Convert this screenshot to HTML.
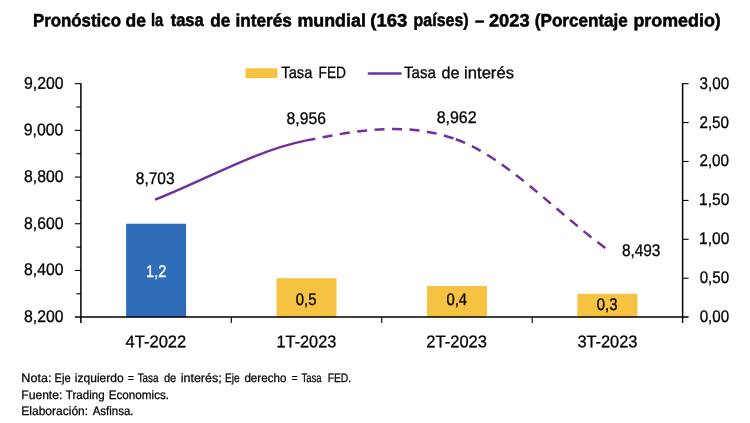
<!DOCTYPE html>
<html><head><meta charset="utf-8"><title>Chart</title>
<style>html,body{margin:0;padding:0;background:#fff;overflow:hidden}svg{display:block}text{font-family:"Liberation Sans",sans-serif}</style></head><body><div style="will-change:transform;width:750px;height:423px">
<svg width="750" height="423" viewBox="0 0 750 423">
<rect width="750" height="423" fill="#fff"/>
<rect x="245.5" y="68.3" width="32" height="9.8" fill="#F5C242"/>
<line x1="368.85" x2="400.55" y1="73.45" y2="73.45" stroke="#7030A0" stroke-width="2.5" stroke-linecap="round"/>
<rect x="126.11" y="223.75" width="60" height="93.40" fill="#2F6DB9"/>
<rect x="276.54" y="278.23" width="60" height="38.92" fill="#F5C242"/>
<rect x="426.96" y="286.02" width="60" height="31.13" fill="#F5C242"/>
<rect x="577.39" y="293.80" width="60" height="23.35" fill="#F5C242"/>
<g stroke="#000" fill="none">
<g stroke-width="1.5">
<path d="M80.9 83.2V322.9"/>
<path d="M682.6 83.2V322.9"/>
<path d="M74.9 317.1H688.6"/>
</g><g stroke-width="1.1">
<path d="M74.9 83.65H80.9"/>
<path d="M76.3 107.00H80.9"/>
<path d="M74.9 130.35H80.9"/>
<path d="M76.3 153.70H80.9"/>
<path d="M74.9 177.05H80.9"/>
<path d="M76.3 200.40H80.9"/>
<path d="M74.9 223.75H80.9"/>
<path d="M76.3 247.10H80.9"/>
<path d="M74.9 270.45H80.9"/>
<path d="M76.3 293.80H80.9"/>
<path d="M682.6 83.65H688.6"/>
<path d="M682.6 122.57H688.6"/>
<path d="M682.6 161.48H688.6"/>
<path d="M682.6 200.40H688.6"/>
<path d="M682.6 239.32H688.6"/>
<path d="M682.6 278.23H688.6"/>
<path d="M231.33 317.1V322.9"/>
<path d="M381.75 317.1V322.9"/>
<path d="M532.18 317.1V322.9"/>
</g></g>
<path d="M155.01 199.70 C205.15 180.01 255.30 150.70 305.44 140.62" fill="none" stroke="#7030A0" stroke-width="2.5"/>
<path d="M305.44 140.62 C355.58 130.54 405.72 121.20 455.86 139.22" fill="none" stroke="#7030A0" stroke-width="2.5" stroke-dasharray="10 7.5"/>
<path d="M455.86 139.22 C506.00 157.24 556.15 212.23 606.29 248.73" fill="none" stroke="#7030A0" stroke-width="2.5" stroke-dasharray="10 7.56"/>
<text transform="rotate(0.03 32.95 26.45)" x="32.95" y="26.45" font-size="18.00" font-weight="bold" textLength="88.03" lengthAdjust="spacingAndGlyphs" fill="#000" stroke="#000" stroke-width="0.5">Pronóstico</text>
<text transform="rotate(0.03 125.46 26.45)" x="125.46" y="26.45" font-size="18.00" font-weight="bold" textLength="20.42" lengthAdjust="spacingAndGlyphs" fill="#000" stroke="#000" stroke-width="0.5">de</text>
<text transform="rotate(0.03 150.97 26.45)" x="150.97" y="26.45" font-size="18.00" font-weight="bold" textLength="12.25" lengthAdjust="spacingAndGlyphs" fill="#000" stroke="#000" stroke-width="0.5">la</text>
<text transform="rotate(0.03 170.65 26.45)" x="170.65" y="26.45" font-size="18.00" font-weight="bold" textLength="33.00" lengthAdjust="spacingAndGlyphs" fill="#000" stroke="#000" stroke-width="0.5">tasa</text>
<text transform="rotate(0.03 210.27 26.45)" x="210.27" y="26.45" font-size="18.00" font-weight="bold" textLength="20.04" lengthAdjust="spacingAndGlyphs" fill="#000" stroke="#000" stroke-width="0.5">de</text>
<text transform="rotate(0.03 235.49 26.45)" x="235.49" y="26.45" font-size="18.00" font-weight="bold" textLength="56.44" lengthAdjust="spacingAndGlyphs" fill="#000" stroke="#000" stroke-width="0.5">interés</text>
<text transform="rotate(0.03 297.40 26.45)" x="297.40" y="26.45" font-size="18.00" font-weight="bold" textLength="68.47" lengthAdjust="spacingAndGlyphs" fill="#000" stroke="#000" stroke-width="0.5">mundial</text>
<text transform="rotate(0.03 370.27 26.45)" x="370.27" y="26.45" font-size="18.00" font-weight="bold" textLength="36.87" lengthAdjust="spacingAndGlyphs" fill="#000" stroke="#000" stroke-width="0.5">(163</text>
<text transform="rotate(0.03 413.60 26.45)" x="413.60" y="26.45" font-size="18.00" font-weight="bold" textLength="55.00" lengthAdjust="spacingAndGlyphs" fill="#000" stroke="#000" stroke-width="0.5">países)</text>
<text transform="rotate(0.03 474.91 26.45)" x="474.91" y="26.45" font-size="18.00" font-weight="bold" textLength="9.37" lengthAdjust="spacingAndGlyphs" fill="#000" stroke="#000" stroke-width="0.5">–</text>
<text transform="rotate(0.03 488.97 26.45)" x="488.97" y="26.45" font-size="18.00" font-weight="bold" textLength="40.62" lengthAdjust="spacingAndGlyphs" fill="#000" stroke="#000" stroke-width="0.5">2023</text>
<text transform="rotate(0.03 534.80 26.45)" x="534.80" y="26.45" font-size="18.00" font-weight="bold" textLength="93.04" lengthAdjust="spacingAndGlyphs" fill="#000" stroke="#000" stroke-width="0.5">(Porcentaje</text>
<text transform="rotate(0.03 633.41 26.45)" x="633.41" y="26.45" font-size="18.00" font-weight="bold" textLength="87.35" lengthAdjust="spacingAndGlyphs" fill="#000" stroke="#000" stroke-width="0.5">promedio)</text>
<text transform="rotate(0.03 281.34 78.25)" x="281.34" y="78.25" font-size="16.40" textLength="30.95" lengthAdjust="spacingAndGlyphs" fill="#000" stroke="#000" stroke-width="0.3">Tasa</text>
<text transform="rotate(0.03 318.53 78.25)" x="318.53" y="78.25" font-size="16.40" textLength="27.45" lengthAdjust="spacingAndGlyphs" fill="#000" stroke="#000" stroke-width="0.3">FED</text>
<text transform="rotate(0.03 404.04 78.25)" x="404.04" y="78.25" font-size="16.40" textLength="31.77" lengthAdjust="spacingAndGlyphs" fill="#000" stroke="#000" stroke-width="0.3">Tasa</text>
<text transform="rotate(0.03 441.56 78.25)" x="441.56" y="78.25" font-size="16.40" textLength="17.96" lengthAdjust="spacingAndGlyphs" fill="#000" stroke="#000" stroke-width="0.3">de</text>
<text transform="rotate(0.03 464.08 78.25)" x="464.08" y="78.25" font-size="16.40" textLength="49.89" lengthAdjust="spacingAndGlyphs" fill="#000" stroke="#000" stroke-width="0.3">interés</text>
<text transform="rotate(0.03 24.02 88.65)" x="24.02" y="88.65" font-size="16.90" textLength="39.43" lengthAdjust="spacingAndGlyphs" fill="#000" stroke="#000" stroke-width="0.3">9,200</text>
<text transform="rotate(0.03 23.76 135.35)" x="23.76" y="135.35" font-size="16.90" textLength="39.64" lengthAdjust="spacingAndGlyphs" fill="#000" stroke="#000" stroke-width="0.3">9,000</text>
<text transform="rotate(0.03 24.03 182.05)" x="24.03" y="182.05" font-size="16.90" textLength="39.41" lengthAdjust="spacingAndGlyphs" fill="#000" stroke="#000" stroke-width="0.3">8,800</text>
<text transform="rotate(0.03 24.05 228.75)" x="24.05" y="228.75" font-size="16.90" textLength="39.42" lengthAdjust="spacingAndGlyphs" fill="#000" stroke="#000" stroke-width="0.3">8,600</text>
<text transform="rotate(0.03 24.02 275.45)" x="24.02" y="275.45" font-size="16.90" textLength="39.41" lengthAdjust="spacingAndGlyphs" fill="#000" stroke="#000" stroke-width="0.3">8,400</text>
<text transform="rotate(0.03 24.00 322.15)" x="24.00" y="322.15" font-size="16.90" textLength="39.42" lengthAdjust="spacingAndGlyphs" fill="#000" stroke="#000" stroke-width="0.3">8,200</text>
<text transform="rotate(0.03 699.54 88.60)" x="699.54" y="88.60" font-size="16.90" textLength="29.56" lengthAdjust="spacingAndGlyphs" fill="#000" stroke="#000" stroke-width="0.3">3,00</text>
<text transform="rotate(0.03 699.43 127.52)" x="699.43" y="127.52" font-size="16.90" textLength="29.63" lengthAdjust="spacingAndGlyphs" fill="#000" stroke="#000" stroke-width="0.3">2,50</text>
<text transform="rotate(0.03 699.43 166.43)" x="699.43" y="166.43" font-size="16.90" textLength="29.63" lengthAdjust="spacingAndGlyphs" fill="#000" stroke="#000" stroke-width="0.3">2,00</text>
<text transform="rotate(0.03 699.07 205.35)" x="699.07" y="205.35" font-size="16.90" textLength="30.19" lengthAdjust="spacingAndGlyphs" fill="#000" stroke="#000" stroke-width="0.3">1,50</text>
<text transform="rotate(0.03 699.07 244.27)" x="699.07" y="244.27" font-size="16.90" textLength="30.19" lengthAdjust="spacingAndGlyphs" fill="#000" stroke="#000" stroke-width="0.3">1,00</text>
<text transform="rotate(0.03 699.71 283.18)" x="699.71" y="283.18" font-size="16.90" textLength="29.45" lengthAdjust="spacingAndGlyphs" fill="#000" stroke="#000" stroke-width="0.3">0,50</text>
<text transform="rotate(0.03 699.71 322.10)" x="699.71" y="322.10" font-size="16.90" textLength="29.45" lengthAdjust="spacingAndGlyphs" fill="#000" stroke="#000" stroke-width="0.3">0,00</text>
<text transform="rotate(0.03 125.54 347.20)" x="125.54" y="347.20" font-size="16.90" textLength="60.74" lengthAdjust="spacingAndGlyphs" fill="#000" stroke="#000" stroke-width="0.3">4T-2022</text>
<text transform="rotate(0.03 276.56 347.20)" x="276.56" y="347.20" font-size="16.90" textLength="59.73" lengthAdjust="spacingAndGlyphs" fill="#000" stroke="#000" stroke-width="0.3">1T-2023</text>
<text transform="rotate(0.03 426.36 347.20)" x="426.36" y="347.20" font-size="16.90" textLength="60.60" lengthAdjust="spacingAndGlyphs" fill="#000" stroke="#000" stroke-width="0.3">2T-2023</text>
<text transform="rotate(0.03 577.38 347.20)" x="577.38" y="347.20" font-size="16.90" textLength="60.05" lengthAdjust="spacingAndGlyphs" fill="#000" stroke="#000" stroke-width="0.3">3T-2023</text>
<text transform="rotate(0.03 135.87 183.95)" x="135.87" y="183.95" font-size="16.90" textLength="38.71" lengthAdjust="spacingAndGlyphs" fill="#000" stroke="#000" stroke-width="0.3">8,703</text>
<text transform="rotate(0.03 286.53 124.10)" x="286.53" y="124.10" font-size="16.90" textLength="39.37" lengthAdjust="spacingAndGlyphs" fill="#000" stroke="#000" stroke-width="0.3">8,956</text>
<text transform="rotate(0.03 436.77 123.00)" x="436.77" y="123.00" font-size="16.90" textLength="39.79" lengthAdjust="spacingAndGlyphs" fill="#000" stroke="#000" stroke-width="0.3">8,962</text>
<text transform="rotate(0.03 621.88 255.90)" x="621.88" y="255.90" font-size="16.90" textLength="38.52" lengthAdjust="spacingAndGlyphs" fill="#000" stroke="#000" stroke-width="0.3">8,493</text>
<text transform="rotate(0.03 146.09 277.30)" x="146.09" y="277.30" font-size="16.90" textLength="20.21" lengthAdjust="spacingAndGlyphs" fill="#fff" stroke="#fff" stroke-width="0.3">1,2</text>
<text transform="rotate(0.03 295.77 304.80)" x="295.77" y="304.80" font-size="16.90" textLength="20.67" lengthAdjust="spacingAndGlyphs" fill="#000" stroke="#000" stroke-width="0.3">0,5</text>
<text transform="rotate(0.03 446.49 305.00)" x="446.49" y="305.00" font-size="16.90" textLength="20.57" lengthAdjust="spacingAndGlyphs" fill="#000" stroke="#000" stroke-width="0.3">0,4</text>
<text transform="rotate(0.03 596.75 310.00)" x="596.75" y="310.00" font-size="16.90" textLength="20.64" lengthAdjust="spacingAndGlyphs" fill="#000" stroke="#000" stroke-width="0.3">0,3</text>
<text transform="rotate(0.03 21.36 382.00)" x="21.36" y="382.00" font-size="12.20" textLength="30.12" lengthAdjust="spacingAndGlyphs" fill="#000" stroke="#000" stroke-width="0.25">Nota:</text>
<text transform="rotate(0.03 54.55 382.00)" x="54.55" y="382.00" font-size="12.20" textLength="16.06" lengthAdjust="spacingAndGlyphs" fill="#000" stroke="#000" stroke-width="0.25">Eje</text>
<text transform="rotate(0.03 74.83 382.00)" x="74.83" y="382.00" font-size="12.20" textLength="48.79" lengthAdjust="spacingAndGlyphs" fill="#000" stroke="#000" stroke-width="0.25">izquierdo</text>
<text transform="rotate(0.03 128.00 382.00)" x="128.00" y="382.00" font-size="12.20" textLength="5.80" lengthAdjust="spacingAndGlyphs" fill="#000" stroke="#000" stroke-width="0.25">=</text>
<text transform="rotate(0.03 137.63 382.00)" x="137.63" y="382.00" font-size="12.20" textLength="20.91" lengthAdjust="spacingAndGlyphs" fill="#000" stroke="#000" stroke-width="0.25">Tasa</text>
<text transform="rotate(0.03 163.92 382.00)" x="163.92" y="382.00" font-size="12.20" textLength="12.44" lengthAdjust="spacingAndGlyphs" fill="#000" stroke="#000" stroke-width="0.25">de</text>
<text transform="rotate(0.03 180.70 382.00)" x="180.70" y="382.00" font-size="12.20" textLength="41.06" lengthAdjust="spacingAndGlyphs" fill="#000" stroke="#000" stroke-width="0.25">interés;</text>
<text transform="rotate(0.03 224.96 382.00)" x="224.96" y="382.00" font-size="12.20" textLength="14.58" lengthAdjust="spacingAndGlyphs" fill="#000" stroke="#000" stroke-width="0.25">Eje</text>
<text transform="rotate(0.03 244.40 382.00)" x="244.40" y="382.00" font-size="12.20" textLength="41.98" lengthAdjust="spacingAndGlyphs" fill="#000" stroke="#000" stroke-width="0.25">derecho</text>
<text transform="rotate(0.03 291.74 382.00)" x="291.74" y="382.00" font-size="12.20" textLength="5.80" lengthAdjust="spacingAndGlyphs" fill="#000" stroke="#000" stroke-width="0.25">=</text>
<text transform="rotate(0.03 301.41 382.00)" x="301.41" y="382.00" font-size="12.20" textLength="20.11" lengthAdjust="spacingAndGlyphs" fill="#000" stroke="#000" stroke-width="0.25">Tasa</text>
<text transform="rotate(0.03 327.65 382.00)" x="327.65" y="382.00" font-size="12.20" textLength="23.52" lengthAdjust="spacingAndGlyphs" fill="#000" stroke="#000" stroke-width="0.25">FED.</text>
<text transform="rotate(0.03 21.27 399.00)" x="21.27" y="399.00" font-size="12.20" textLength="41.08" lengthAdjust="spacingAndGlyphs" fill="#000" stroke="#000" stroke-width="0.25">Fuente:</text>
<text transform="rotate(0.03 65.80 399.00)" x="65.80" y="399.00" font-size="12.20" textLength="38.79" lengthAdjust="spacingAndGlyphs" fill="#000" stroke="#000" stroke-width="0.25">Trading</text>
<text transform="rotate(0.03 108.68 399.00)" x="108.68" y="399.00" font-size="12.20" textLength="60.43" lengthAdjust="spacingAndGlyphs" fill="#000" stroke="#000" stroke-width="0.25">Economics.</text>
<text transform="rotate(0.03 21.29 415.00)" x="21.29" y="415.00" font-size="12.20" textLength="66.87" lengthAdjust="spacingAndGlyphs" fill="#000" stroke="#000" stroke-width="0.25">Elaboración:</text>
<text transform="rotate(0.03 92.68 415.00)" x="92.68" y="415.00" font-size="12.20" textLength="40.85" lengthAdjust="spacingAndGlyphs" fill="#000" stroke="#000" stroke-width="0.25">Asfinsa.</text>
</svg></div></body></html>
